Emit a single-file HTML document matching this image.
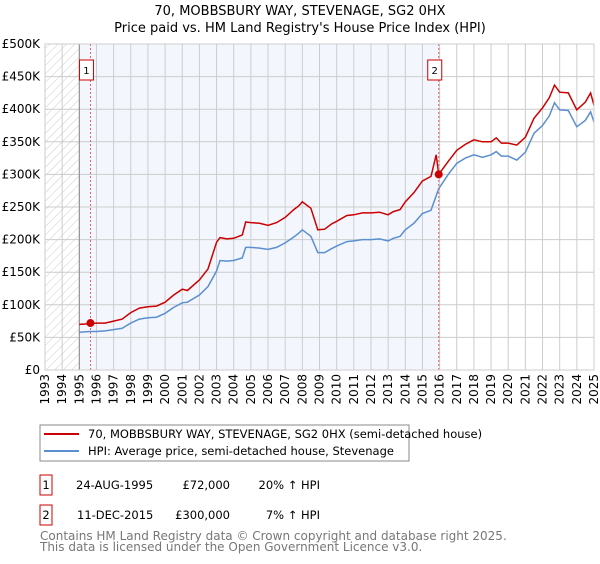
<!DOCTYPE html>
<html><head><meta charset="utf-8"><style>
body{margin:0;background:#fff;font-family:"DejaVu Sans","Liberation Sans",sans-serif;}
svg text{font-family:"DejaVu Sans","Liberation Sans",sans-serif;}
</style></head><body>
<svg id="c" width="600" height="560" xmlns="http://www.w3.org/2000/svg">
<defs><pattern id="hatch" width="6" height="6" patternUnits="userSpaceOnUse" patternTransform="rotate(45)"><line x1="0" y1="0" x2="0" y2="6" stroke="#ccc" stroke-width="1"/></pattern></defs>
<text x="300" y="15" text-anchor="middle" font-size="13">70, MOBBSBURY WAY, STEVENAGE, SG2 0HX</text>
<text x="300" y="32" text-anchor="middle" font-size="13">Price paid vs. HM Land Registry's House Price Index (HPI)</text>
<g id="plot"></g>
<rect x="40" y="425" width="369" height="36" fill="#fff" stroke="#888"/>
<line x1="44" y1="434" x2="79" y2="434" stroke="#cc0000" stroke-width="2"/>
<text x="88" y="438" font-size="11.5">70, MOBBSBURY WAY, STEVENAGE, SG2 0HX (semi-detached house)</text>
<line x1="44" y1="451" x2="79" y2="451" stroke="#5b8fd0" stroke-width="2"/>
<text x="88" y="455" font-size="11.5">HPI: Average price, semi-detached house, Stevenage</text>
<g font-size="11.5">
<rect x="40" y="475" width="12" height="20" fill="#fff" stroke="#cc0000"/>
<text x="46" y="489" text-anchor="middle">1</text>
<text x="76" y="489">24-AUG-1995</text>
<text x="230" y="489" text-anchor="end">£72,000</text>
<text x="320" y="489" text-anchor="end">20% ↑ HPI</text>
<rect x="40" y="505" width="12" height="20" fill="#fff" stroke="#cc0000"/>
<text x="46" y="519" text-anchor="middle">2</text>
<text x="77" y="519">11-DEC-2015</text>
<text x="230" y="519" text-anchor="end">£300,000</text>
<text x="320" y="519" text-anchor="end">7% ↑ HPI</text>
</g>
<text x="40" y="540" font-size="12" fill="#777">Contains HM Land Registry data © Crown copyright and database right 2025.</text>
<text x="40" y="551" font-size="12" fill="#777">This data is licensed under the Open Government Licence v3.0.</text>
</svg>
<script>
const yTicks=[0,50000,100000,150000,200000,250000,300000,350000,400000,450000,500000];
const yTickLabels=["£0","£50K","£100K","£150K","£200K","£250K","£300K","£350K","£400K","£450K","£500K"];
const xYears=[1993,1994,1995,1996,1997,1998,1999,2000,2001,2002,2003,2004,2005,2006,2007,2008,2009,2010,2011,2012,2013,2014,2015,2016,2017,2018,2019,2020,2021,2022,2023,2024,2025];
const hpiDates=[1995.0,1995.6,1996,1996.5,1997,1997.5,1998,1998.5,1999,1999.5,2000,2000.5,2001,2001.3,2002,2002.5,2003,2003.2,2003.6,2004,2004.5,2004.7,2005,2005.5,2006,2006.5,2007,2007.5,2007.8,2008,2008.5,2008.9,2009.3,2009.7,2010,2010.6,2011,2011.5,2012,2012.5,2013,2013.3,2013.7,2014,2014.5,2015,2015.5,2015.95,2016.5,2017,2017.5,2018,2018.5,2019,2019.3,2019.6,2020,2020.5,2021,2021.5,2022,2022.4,2022.7,2023,2023.5,2024,2024.5,2024.8,2025];
const hpiValues=[58000,59000,59000,60000,62000,64000,72000,78000,80000,81000,87000,96000,103000,104000,115000,128000,152000,168000,167000,168000,172000,188000,188000,187000,185000,188000,195000,204000,210000,215000,205000,180000,180000,186000,190000,197000,198000,200000,200000,201000,198000,202000,205000,215000,225000,240000,245000,278000,300000,317000,325000,330000,326000,330000,335000,328000,328000,322000,334000,363000,375000,390000,410000,399000,398000,373000,383000,396000,380000];
const priceDates=[1995.0,1995.6,1996,1996.5,1997,1997.5,1998,1998.5,1999,1999.5,2000,2000.5,2001,2001.3,2002,2002.5,2003,2003.2,2003.6,2004,2004.5,2004.7,2005,2005.5,2006,2006.5,2007,2007.5,2007.8,2008,2008.5,2008.9,2009.3,2009.7,2010,2010.6,2011,2011.5,2012,2012.5,2013,2013.3,2013.7,2014,2014.5,2015,2015.5,2015.8,2015.95,2016.5,2017,2017.5,2018,2018.5,2019,2019.3,2019.6,2020,2020.5,2021,2021.5,2022,2022.4,2022.7,2023,2023.5,2024,2024.5,2024.8,2025];
const priceValues=[70000,71000,72000,72000,75000,78000,88000,95000,97000,98000,104000,115000,124000,122000,138000,155000,196000,203000,201000,202000,207000,227000,226000,225000,222000,226000,234000,246000,252000,258000,248000,215000,216000,224000,228000,237000,238000,241000,241000,242000,238000,243000,246000,258000,272000,290000,297000,330000,300000,320000,337000,346000,353000,350000,350000,356000,348000,348000,345000,357000,386000,402000,418000,437000,426000,425000,399000,411000,425000,406000];
const sales=[{date:1995.65,value:72000,label:"1"},{date:2015.95,value:300000,label:"2"}];
const X0=45,X1=594,Y0=370,Y1=44;
const xs=y=>X0+(y-1993)/(2025-1993)*(X1-X0);
const ys=v=>Y0-v/500000*(Y0-Y1);
const NS="http://www.w3.org/2000/svg";
const g=document.getElementById('plot');
function mk(t,a){const e=document.createElementNS(NS,t);for(const k in a)e.setAttribute(k,a[k]);g.appendChild(e);return e;}
let e;
e=mk('rect',{x:X0,y:Y1,width:X1-X0,height:Y0-Y1,fill:'#fff'});


e=mk('rect',{x:xs(1995),y:Y1,width:xs(sales[1].date)-xs(1995),height:Y0-Y1,fill:'#eef3fc',opacity:0.7});


e=mk('rect',{x:X0,y:Y1,width:xs(1995)-X0,height:Y0-Y1,fill:'url(#hatch)'});


yTicks.forEach((v,i)=>{
 e=mk('line',{x1:X0,x2:X1,y1:ys(v),y2:ys(v),stroke:'#ccc','stroke-width':1});
 
 
 e=mk('text',{x:X0-5,y:ys(v)+4,'text-anchor':'end','font-size':12});
 e.textContent=yTickLabels[i];
 
 
});
xYears.forEach(yr=>{
 e=mk('line',{x1:xs(yr),x2:xs(yr),y1:Y1,y2:Y0,stroke:'#ccc','stroke-width':1});
 
 
 const x=xs(yr)+4,y=Y0+4;
 e=mk('text',{x:x,y:y,'text-anchor':'end','font-size':12,transform:`rotate(-90 ${x} ${y})`});
 e.textContent=yr;
 
 
});
e=mk('line',{x1:xs(1995),x2:xs(1995),y1:Y1,y2:Y0,stroke:'#888','stroke-width':1});


function path(d,v){return d.map((t,i)=>(i?'L':'M')+xs(t).toFixed(1)+','+ys(v[i]).toFixed(1)).join('');}
e=mk('path',{d:path(hpiDates,hpiValues),fill:'none',stroke:'#5b8fd0','stroke-width':1.5});


e=mk('path',{d:path(priceDates,priceValues),fill:'none',stroke:'#cc0000','stroke-width':1.5});


sales.forEach(s=>{
 e=mk('line',{x1:xs(s.date),x2:xs(s.date),y1:Y1,y2:Y0,stroke:'#e06060','stroke-width':1,'stroke-dasharray':'2,2'});
 
 
 e=mk('circle',{cx:xs(s.date),cy:ys(s.value),r:4,fill:'#cc0000'});
 
 
 e=mk('rect',{x:xs(s.date)-11,y:60,width:14,height:20,fill:'#fff',stroke:'#cc0000'});
 
 
 e=mk('text',{x:xs(s.date)-4,y:74,'text-anchor':'middle','font-size':10});
 e.textContent=s.label;
 
 
});
e=mk('rect',{x:X0,y:Y1,width:X1-X0,height:Y0-Y1,fill:'none',stroke:'#ccc'});


</script>
</body></html>
